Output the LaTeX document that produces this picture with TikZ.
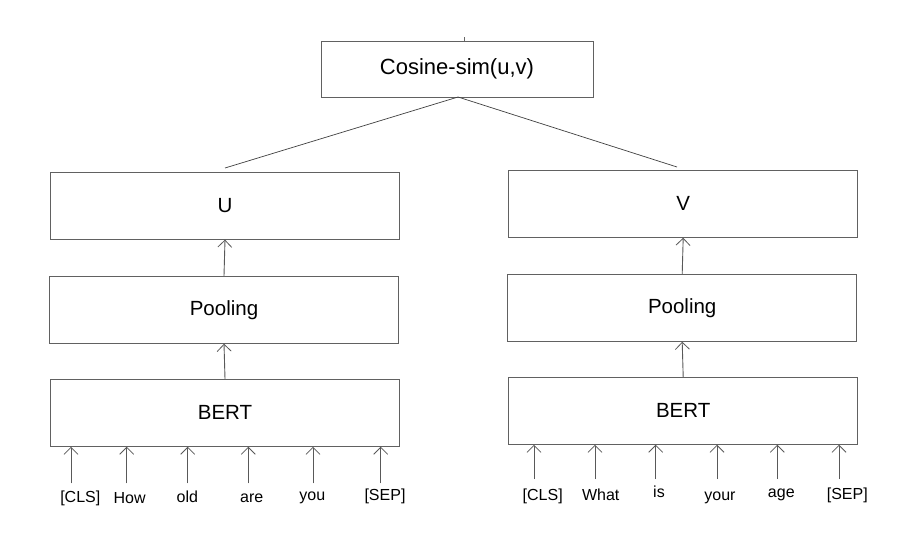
\documentclass[tikz,border=0pt]{standalone}
\usepackage{fontspec}
\setmainfont{Liberation Sans}
\usetikzlibrary{arrows.meta}
\begin{document}
\begin{tikzpicture}[x=1pt,y=-1pt,
  box/.style={draw=black!62,line width=0.9pt,minimum width=349pt,minimum height=67pt,inner sep=0pt,font=\fontsize{20.5}{24}\selectfont},
  cosbox/.style={draw=black!62,line width=0.9pt,minimum width=272pt,minimum height=56pt,inner sep=0pt,font=\fontsize{22}{26}\selectfont},
  tok/.style={inner sep=0pt,anchor=base,font=\fontsize{16}{19}\selectfont},
  arr/.style={draw=black!65,line width=0.9pt,-{Straight Barb[length=7pt,width=14pt,line width=0.8pt]}},
  link/.style={draw=black!75,line width=0.7pt}]
\useasboundingbox (0,0) rectangle (908,544);
\fill[white] (0,0) rectangle (908,544);
% top
\node[cosbox] (cos) at (457,69) {Cosine-sim(u,v)};
\coordinate (tick) at (464,37);
\draw[draw=black!60,line width=0.6pt] (tick) -- (tick |- cos.north);
\coordinate (cl) at (225,168);
\coordinate (cr) at (677,167);
\coordinate (cb) at (458,97);
\draw[link] (cb) -- (cl);
\draw[link] (cb) -- (cr);
% left column
\node[box] (U) at (225,205.7) {U};
\node[box] (poolL) at (224,309.8) {Pooling};
\node[box] (bertL) at (225,412.8) {BERT};
\draw[arr] (poolL.north) -- (U.south);
\draw[arr] (bertL.north) -- (poolL.south);
% right column
\node[box] (V) at (683.2,203.8) {V};
\node[box] (poolR) at (682.2,307.8) {Pooling};
\node[box] (bertR) at (683.2,410.8) {BERT};
\draw[arr] (poolR.north) -- (V.south);
\draw[arr] (bertR.north) -- (poolR.south);
% left tokens
\node[tok] (l1) at (80.3,502.3) {[CLS]};
\node[tok] (l2) at (129.7,503.3) {How};
\node[tok] (l3) at (187.3,502.3) {old};
\node[tok] (l4) at (251.7,502.3) {are};
\node[tok] (l5) at (312.3,500.7) {you};
\node[tok] (l6) at (385,500.7) {[SEP]};
\foreach \i/\x in {1/71,2/126.7,3/187.7,4/248.3,5/313,6/380.7}{
  \coordinate (la\i) at (\x,483.3);
  \draw[arr] (la\i) -- (la\i |- bertL.south);
}
% right tokens
\node[tok] (r1) at (542.7,500.7) {[CLS]};
\node[tok] (r2) at (600.7,500) {What};
\node[tok] (r3) at (659,497.3) {is};
\node[tok] (r4) at (720,500) {your};
\node[tok] (r5) at (781.3,497.7) {age};
\node[tok] (r6) at (847.3,499.3) {[SEP]};
\foreach \i/\x in {1/534,2/595,3/655.7,4/717,5/777.3,6/839}{
  \coordinate (ra\i) at (\x,479);
  \draw[arr] (ra\i) -- (ra\i |- bertR.south);
}
\end{tikzpicture}
\end{document}
